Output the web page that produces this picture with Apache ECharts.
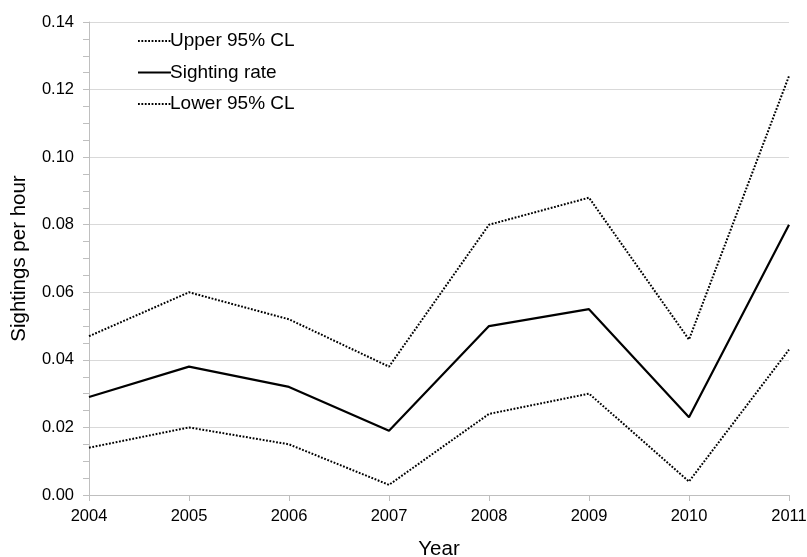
<!DOCTYPE html>
<html><head><meta charset="utf-8">
<script src="https://cdn.jsdelivr.net/npm/echarts@6/dist/echarts.min.js"></script>
<style>html,body{margin:0;padding:0;background:#fff}#c{width:807px;height:557px}</style>
</head><body><div id="c"></div>
<script>
const years = ['2004','2005','2006','2007','2008','2009','2010','2011'];
const upper = [0.047, 0.060, 0.052, 0.038, 0.080, 0.088, 0.046, 0.124];
const rate  = [0.029, 0.038, 0.032, 0.019, 0.050, 0.055, 0.023, 0.080];
const lower = [0.014, 0.020, 0.015, 0.003, 0.024, 0.030, 0.004, 0.043];
const font = 'Liberation Sans, Arial, sans-serif';
const chart = echarts.init(document.getElementById('c'));
chart.setOption({
  animation:false,
  textStyle:{fontFamily:font},
  grid:{left:89,right:18,top:22,bottom:62,containLabel:false,outerBoundsMode:'none'},
  legend:{
    orient:'vertical', left:137, top:31, padding:0, itemWidth:33, itemHeight:14, itemGap:11.5,
    itemStyle:{color:'transparent',borderWidth:0,opacity:0},
    textStyle:{fontFamily:font,fontSize:19,color:'#000',lineHeight:20,padding:[0,0,0,-6]},
    data:['Upper 95% CL','Sighting rate','Lower 95% CL']
  },
  xAxis:{
    type:'category', data:years, boundaryGap:false,
    name:'Year', nameLocation:'middle', nameGap:44,
    nameTextStyle:{fontFamily:font,fontSize:20.5,color:'#000'},
    axisLine:{lineStyle:{color:'#bfbfbf',width:1}},
    axisTick:{show:true,length:6,lineStyle:{color:'#bfbfbf'}},
    axisLabel:{fontFamily:font,fontSize:16.5,color:'#000',margin:13},
    splitLine:{show:false}
  },
  yAxis:{
    type:'value', min:0, max:0.14, interval:0.02,
    name:'Sightings per hour', nameLocation:'middle', nameGap:59,
    nameTextStyle:{fontFamily:font,fontSize:20.5,color:'#000'},
    axisLine:{show:true,lineStyle:{color:'#bfbfbf',width:1}},
    axisTick:{show:true,length:6,lineStyle:{color:'#bfbfbf'}},
    minorTick:{show:true,splitNumber:4,length:6,lineStyle:{color:'#bfbfbf'}},
    axisLabel:{fontFamily:font,fontSize:16.5,color:'#000',margin:15,formatter:v=>v.toFixed(2)},
    splitLine:{show:true,lineStyle:{color:'#d9d9d9',width:1}}
  },
  series:[
    {name:'Upper 95% CL',type:'line',data:upper,symbol:'none',lineStyle:{color:'#000',width:2,type:[1.8,1.6]},itemStyle:{color:'#000'}},
    {name:'Sighting rate',type:'line',data:rate,symbol:'none',lineStyle:{color:'#000',width:2.2,type:'solid'},itemStyle:{color:'#000'}},
    {name:'Lower 95% CL',type:'line',data:lower,symbol:'none',lineStyle:{color:'#000',width:2,type:[1.8,1.6]},itemStyle:{color:'#000'}}
  ]
});
</script></body></html>
